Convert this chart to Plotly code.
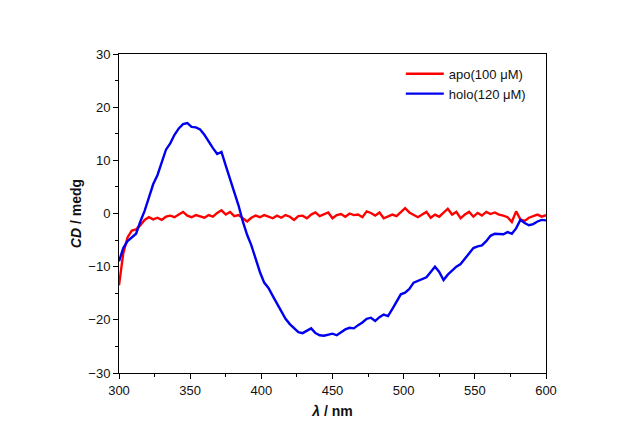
import plotly.graph_objects as go

wavelength = list(range(300, 601, 3))

apo = [-13.5, -7.5, -4.5, -3.2, -3.0, -2.2, -1.2, -0.7, -1.1, -0.8,
       -1.2, -0.6, -0.4, -0.7, -0.2, 0.3, -0.4, -0.7, -0.3, -0.6,
       -0.8, -0.3, -0.6, 0.1, 0.6, -0.2, 0.3, -0.5, -0.3, -0.9,
       -1.5, -0.8, -0.4, -0.7, -0.3, -0.6, -0.9, -0.4, -0.8, -0.3,
       -0.6, -1.2, -0.5, -0.4, -0.9, -0.2, 0.2, -0.5, -0.1, 0.2,
       -0.9, -0.3, -0.1, -0.6, 0.0, -0.3, -0.2, -0.7, 0.4, 0.1,
       -0.4, 0.2, -0.9, -0.6, -0.2, -0.5, 0.3, 1.0, 0.2, -0.3,
       -0.7, -0.2, 0.3, -0.8, -0.2, -0.6, 0.1, 0.9, -0.2, 0.3,
       -0.9, -0.2, 0.3, -0.6, 0.1, -0.4, 0.3, -0.1, 0.2, -0.2,
       -0.4, -0.7, -1.6, 0.4, -1.1, -1.4, -0.8, -0.5, -0.2, -0.6,
       -0.3]

holo = [-9.0, -6.5, -5.2, -4.5, -3.8, -1.5, 0.5, 3.0, 5.5, 7.2,
        9.5, 12.0, 13.2, 14.8, 16.0, 16.8, 17.0, 16.3, 16.2, 15.8,
        14.8, 13.5, 12.3, 11.2, 11.6, 9.0, 6.5, 4.0, 1.5, -1.5,
        -4.0, -6.0, -8.5, -11.0, -13.0, -14.0, -15.5, -17.0, -18.5, -19.8,
        -20.8, -21.5, -22.3, -22.5, -22.0, -21.6, -22.5, -22.9, -23.0, -22.8,
        -22.6, -22.9, -22.3, -21.8, -21.5, -21.6, -21.0, -20.5, -19.8, -19.6,
        -20.2, -19.5, -19.0, -19.3, -18.0, -16.5, -15.2, -14.9, -14.2, -13.0,
        -12.7, -12.3, -12.0, -11.0, -10.0, -11.0, -12.5, -11.5, -10.8, -10.0,
        -9.5, -8.5, -7.5, -6.5, -6.2, -6.0, -5.2, -4.2, -3.8, -3.8,
        -3.9, -3.5, -3.8, -2.8, -1.2, -1.8, -2.2, -2.0, -1.5, -1.2,
        -1.3]

n = min(len(wavelength), len(apo), len(holo))

fig = go.Figure()
fig.add_trace(go.Scatter(x=wavelength[:n], y=apo[:n], mode="lines",
                         name="apo(100 μM)", line=dict(color="#ff0000", width=2.4)))
fig.add_trace(go.Scatter(x=wavelength[:n], y=holo[:n], mode="lines",
                         name="holo(120 μM)", line=dict(color="#0000f0", width=2.4)))

axis_common = dict(
    showline=True, linecolor="black", linewidth=1, mirror=True,
    ticks="outside", ticklen=5, tickwidth=1, tickcolor="black",
    showgrid=False, zeroline=False,
    tickfont=dict(family="Liberation Sans, Arial", size=13, color="#111"),
)

fig.update_xaxes(range=[300, 600], tickvals=[300, 350, 400, 450, 500, 550, 600],
                 minor=dict(dtick=25, ticks="outside", ticklen=3, tickcolor="black"),
                 title=dict(text="<b><i>λ</i> / nm</b>", standoff=9,
                            font=dict(family="Liberation Sans, Arial", size=14, color="#111")),
                 **axis_common)
fig.update_yaxes(range=[-30, 30], tickvals=[-30, -20, -10, 0, 10, 20, 30],
                 minor=dict(dtick=5, ticks="outside", ticklen=3, tickcolor="black"),
                 title=dict(text="<b><i>CD</i> / medg</b>", standoff=3,
                            font=dict(family="Liberation Sans, Arial", size=14, color="#111")),
                 **axis_common)

fig.update_layout(
    width=627, height=436,
    margin=dict(l=119, r=81, t=54, b=63),
    paper_bgcolor="white", plot_bgcolor="white",
    showlegend=True,
    legend=dict(x=0.66, y=0.985, xanchor="left", yanchor="top",
                bgcolor="rgba(0,0,0,0)", borderwidth=0, itemwidth=38,
                font=dict(family="Liberation Sans, Arial", size=13, color="#111"),
                tracegroupgap=0),
)

fig.write_html("out.html")
